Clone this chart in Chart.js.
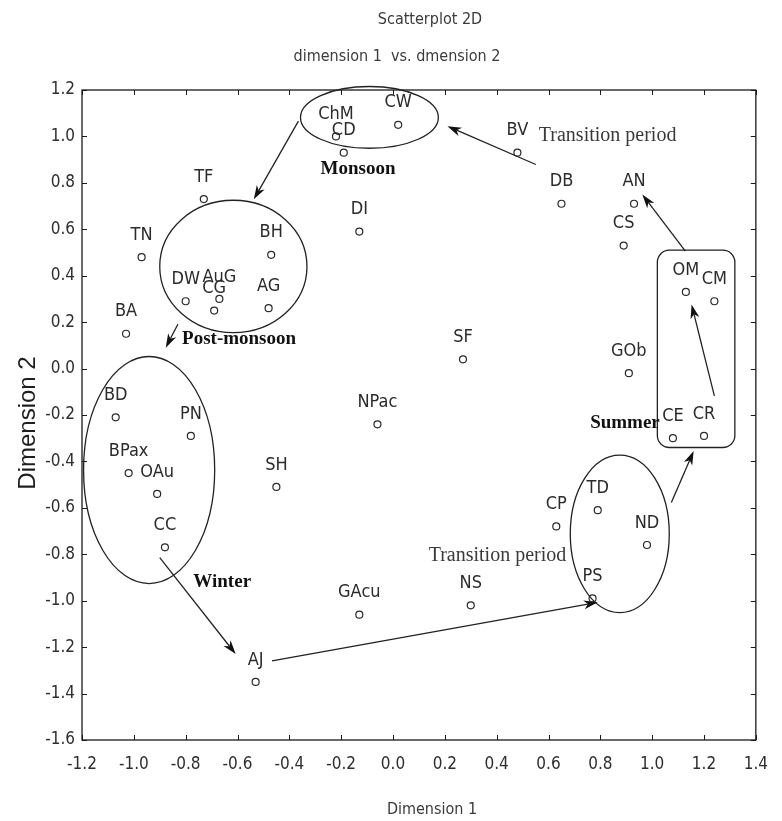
<!DOCTYPE html>
<html>
<head>
<meta charset="utf-8">
<script src="https://cdn.jsdelivr.net/npm/chart.js@4.4.1/dist/chart.umd.min.js"></script>
<style>
  html, body { margin: 0; padding: 0; background: #ffffff; }
  #wrap { width: 782px; height: 821px; }
</style>
</head>
<body>
<div id="wrap"><canvas id="scatter" width="782" height="821"></canvas></div>
<script>
// Sampling sites and their coordinates on the first two dimensions
const siteCodes = ['ChM','CD','CW','TF','TN','BH','DW','AuG','CG','AG','BA','DI',
  'BV','DB','AN','CS','OM','CM','SF','GOb','BD','PN','BPax','OAu','CC','SH',
  'NPac','GAcu','AJ','CE','CR','TD','CP','ND','PS','NS'];
const dim1 = [-0.22,-0.19,0.02,-0.73,-0.97,-0.47,-0.80,-0.67,-0.69,-0.48,-1.03,-0.13,
  0.48,0.65,0.93,0.89,1.13,1.24,0.27,0.91,-1.07,-0.78,-1.02,-0.91,-0.88,-0.45,
  -0.06,-0.13,-0.53,1.08,1.20,0.79,0.63,0.98,0.77,0.30];
const dim2 = [1.00,0.93,1.05,0.73,0.48,0.49,0.29,0.30,0.25,0.26,0.15,0.59,
  0.93,0.71,0.71,0.53,0.33,0.29,0.04,-0.02,-0.21,-0.29,-0.45,-0.54,-0.77,-0.51,
  -0.24,-1.06,-1.35,-0.30,-0.29,-0.61,-0.68,-0.76,-0.99,-1.02];

// Axis ticks
const xTickValues = [-1.2,-1.0,-0.8,-0.6,-0.4,-0.2,0.0,0.2,0.4,0.6,0.8,1.0,1.2,1.4];
const xTickLabels = ['-1.2','-1.0','-0.8','-0.6','-0.4','-0.2','0.0','0.2','0.4','0.6','0.8','1.0','1.2','1.4'];
const yTickValues = [-1.6,-1.4,-1.2,-1.0,-0.8,-0.6,-0.4,-0.2,0.0,0.2,0.4,0.6,0.8,1.0,1.2];
const yTickLabels = ['-1.6','-1.4','-1.2','-1.0','-0.8','-0.6','-0.4','-0.2','0.0','0.2','0.4','0.6','0.8','1.0','1.2'];

// Seasonal groupings (data units)
const seasonEllipses = [
  { cx: -0.091, cy: 1.082, rx: 0.266, ry: 0.133 },   // monsoon
  { cx: -0.616, cy: 0.440, rx: 0.284, ry: 0.285 },   // post-monsoon
  { cx: -0.941, cy: -0.437, rx: 0.253, ry: 0.489 },  // winter
  { cx: 0.875, cy: -0.712, rx: 0.191, ry: 0.339 }    // transition (TD, ND, PS)
];
const summerBox = { x1: 1.020, x2: 1.319, y1: 0.510, y2: -0.340, r: 12 };
const seasonArrows = [
  [-0.365, 1.066, -0.537, 0.729],
  [-0.830, 0.191, -0.877, 0.090],
  [-0.900, -0.814, -0.607, -1.230],
  [-0.467, -1.259, 0.790, -1.007],
  [1.074, -0.577, 1.160, -0.355],
  [1.240, -0.118, 1.152, 0.276],
  [1.128, 0.506, 0.962, 0.750],
  [0.551, 0.879, 0.210, 1.044]
];
const seasonNames = [
  { text: 'Monsoon', x: -0.135, y: 0.858, bold: true },
  { text: 'Post-monsoon', x: -0.594, y: 0.126, bold: true },
  { text: 'Winter', x: -0.659, y: -0.921, bold: true },
  { text: 'Summer', x: 0.895, y: -0.237, bold: true },
  { text: 'Transition period', x: 0.828, y: 1.001, bold: false },
  { text: 'Transition period', x: 0.403, y: -0.807, bold: false }
];

const NARROW = "'Liberation Sans Narrow', 'DejaVu Sans Condensed', 'Arial Narrow', sans-serif";
const SERIF = "'Liberation Serif', 'Times New Roman', serif";

function arrow(ctx, x1, y1, x2, y2) {
  const ang = Math.atan2(y2 - y1, x2 - x1);
  const len = 14, half = 4.5, notch = 10;
  const bx = x2 - Math.cos(ang) * notch, by = y2 - Math.sin(ang) * notch;
  ctx.beginPath();
  ctx.moveTo(x1, y1);
  ctx.lineTo(bx, by);
  ctx.stroke();
  const cx = x2 - Math.cos(ang) * len, cy = y2 - Math.sin(ang) * len;
  const nx = -Math.sin(ang), ny = Math.cos(ang);
  ctx.beginPath();
  ctx.moveTo(x2, y2);
  ctx.lineTo(cx + nx * half, cy + ny * half);
  ctx.lineTo(bx, by);
  ctx.lineTo(cx - nx * half, cy - ny * half);
  ctx.closePath();
  ctx.fill();
}

const overlay = {
  id: 'overlay',
  afterDatasetsDraw(chart) {
    const { ctx, chartArea: a, scales: { x, y } } = chart;
    const px = v => x.getPixelForValue(v);
    const py = v => y.getPixelForValue(v);
    ctx.save();

    // frame with inward ticks on all four sides
    ctx.strokeStyle = '#1a1a1a';
    ctx.lineWidth = 1.3;
    ctx.strokeRect(a.left, a.top, a.right - a.left, a.bottom - a.top);
    ctx.lineWidth = 1;
    ctx.beginPath();
    xTickValues.forEach(v => {
      const p = Math.round(px(v)) + 0.5;
      ctx.moveTo(p, a.bottom); ctx.lineTo(p, a.bottom - 5);
      ctx.moveTo(p, a.top); ctx.lineTo(p, a.top + 5);
    });
    yTickValues.forEach(v => {
      const p = Math.round(py(v)) + 0.5;
      ctx.moveTo(a.left, p); ctx.lineTo(a.left + 5, p);
      ctx.moveTo(a.right, p); ctx.lineTo(a.right - 5, p);
    });
    ctx.stroke();

    // site labels above each marker
    const meta = chart.getDatasetMeta(0);
    ctx.fillStyle = '#2b2b2b';
    ctx.font = '18px ' + NARROW;
    ctx.textAlign = 'center';
    ctx.textBaseline = 'middle';
    meta.data.forEach((pt, i) => {
      ctx.fillText(siteCodes[i], pt.x, pt.y - 22);
    });

    // season groupings
    ctx.strokeStyle = '#222';
    ctx.fillStyle = '#111';
    ctx.lineWidth = 1.3;
    seasonEllipses.forEach(e => {
      const cx = px(e.cx), cy = py(e.cy);
      const rx = Math.abs(px(e.cx + e.rx) - cx), ry = Math.abs(py(e.cy + e.ry) - cy);
      ctx.beginPath();
      ctx.ellipse(cx, cy, rx, ry, 0, 0, Math.PI * 2);
      ctx.stroke();
    });
    const bx1 = px(summerBox.x1), bx2 = px(summerBox.x2);
    const by1 = py(summerBox.y1), by2 = py(summerBox.y2);
    ctx.beginPath();
    ctx.roundRect(bx1, by1, bx2 - bx1, by2 - by1, summerBox.r);
    ctx.stroke();

    ctx.lineWidth = 1.3;
    seasonArrows.forEach(s => arrow(ctx, px(s[0]), py(s[1]), px(s[2]), py(s[3])));

    seasonNames.forEach(n => {
      ctx.font = (n.bold ? 'bold 19px ' : '20px ') + SERIF;
      ctx.fillStyle = n.bold ? '#111' : '#3a3a3a';
      ctx.fillText(n.text, px(n.x), py(n.y));
    });
    ctx.restore();
  },
  afterDraw(chart) {
    const { ctx, chartArea: a } = chart;
    ctx.save();
    ctx.fillStyle = '#3a3a3a';
    ctx.textAlign = 'center';
    ctx.textBaseline = 'middle';
    ctx.font = '16px ' + NARROW;
    ctx.fillText('Scatterplot 2D', 430, 20);
    ctx.fillText('dimension 1  vs. dmension 2', 397, 57);
    ctx.fillText('Dimension 1', 432, 810);
    ctx.fillStyle = '#1f1f1f';
    ctx.font = '24px "Liberation Sans", Arial, sans-serif';
    ctx.translate(28, (a.top + a.bottom) / 2 + 8);
    ctx.rotate(-Math.PI / 2);
    ctx.fillText('Dimension 2', 0, 0);
    ctx.restore();
  }
};

const points = dim1.map((v, i) => ({ x: v, y: dim2[i] }));

new Chart(document.getElementById('scatter'), {
  type: 'scatter',
  data: {
    datasets: [{
      data: points,
      pointStyle: 'circle',
      pointRadius: 3.5,
      pointBorderWidth: 1.2,
      pointBorderColor: '#2a2a2a',
      pointBackgroundColor: '#ffffff'
    }]
  },
  options: {
    responsive: false,
    devicePixelRatio: 1,
    animation: false,
    layout: { padding: { top: 90, right: 21, bottom: 0, left: 0 } },
    plugins: { legend: { display: false }, tooltip: { enabled: false } },
    scales: {
      x: {
        type: 'linear', min: -1.2, max: 1.4,
        afterBuildTicks: s => { s.ticks = xTickValues.map(v => ({ value: v })); },
        afterFit: s => { s.height = 81; },
        grid: { display: false, drawTicks: false },
        border: { display: false },
        ticks: {
          autoSkip: false, maxRotation: 0, padding: 14,
          color: '#2e2e2e', font: { family: NARROW, size: 17 },
          callback: (v, i) => xTickLabels[i]
        }
      },
      y: {
        type: 'linear', min: -1.6, max: 1.2,
        afterBuildTicks: s => { s.ticks = yTickValues.map(v => ({ value: v })); },
        afterFit: s => { s.width = 82; },
        grid: { display: false, drawTicks: false },
        border: { display: false },
        ticks: {
          autoSkip: false, padding: 7,
          color: '#2e2e2e', font: { family: NARROW, size: 17 },
          callback: (v, i) => yTickLabels[i]
        }
      }
    }
  },
  plugins: [overlay]
});
</script>
</body>
</html>
